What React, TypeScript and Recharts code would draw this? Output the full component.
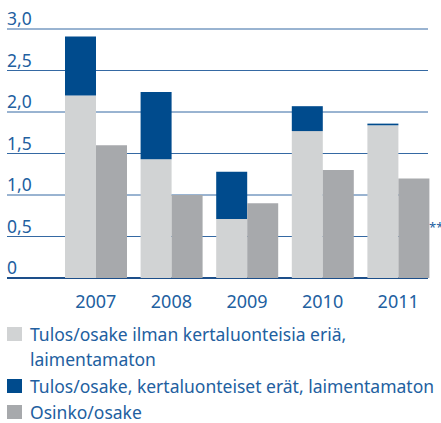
import { BarChart, Bar, XAxis, YAxis, CartesianGrid } from 'recharts';

const years = ['2007', '2008', '2009', '2010', '2011'];
const epsBase = [2.2, 1.43, 0.71, 1.77, 1.84];
const epsItems = [0.71, 0.81, 0.57, 0.3, 0.02];
const dividend = [1.6, 1.0, 0.9, 1.3, 1.2];
const yTicks = [0, 0.5, 1, 1.5, 2, 2.5, 3];

const legendLabels = [
  'Tulos/osake ilman kertaluonteisia eriä,\nlaimentamaton',
  'Tulos/osake, kertaluonteiset erät, laimentamaton',
  'Osinko/osake',
];

const LIGHT = '#d1d3d4';
const BLUE = '#004b8d';
const GRAY = '#a7a9ac';
const TEXT = '#22609f';
const LINE = '#3569a3';
const FONT = '"Noto Sans", sans-serif';

const data = years.map((year, i) => ({
  year,
  base: epsBase[i],
  items: epsItems[i],
  dividend: dividend[i],
}));

const legendColors = [LIGHT, BLUE, GRAY];

const fmt = (v: number) => (v === 0 ? '0' : v.toFixed(1).replace('.', ','));

function GridLine(p: any) {
  const isZero = p.index === 0;
  return (
    <line
      key={p.key}
      x1={p.x1}
      y1={p.y1}
      x2={p.x2 - 8}
      y2={p.y2}
      stroke={isZero ? '#1d4f8a' : LINE}
      strokeWidth={isZero ? 2 : 1}
    />
  );
}

export default function App() {
  return (
    <div style={{ position: 'absolute', left: 0, top: 0, width: 441, height: 423, fontFamily: FONT }}>
      <BarChart
        width={441}
        height={315}
        data={data}
        margin={{ top: 29, right: 5, bottom: 0, left: 6 }}
        barGap={0}
        barSize={31}
      >
        <CartesianGrid vertical={false} horizontal={GridLine} />
        <YAxis
          width={1}
          domain={[0, 3]}
          ticks={yTicks}
          interval={0}
          axisLine={false}
          tickLine={false}
          tickSize={0}
          tickMargin={0}
          tick={(p: any) => (
            <text
              key={p.index}
              x={p.x}
              y={p.y - 4}
              textAnchor="start"
              fill={TEXT}
              fontSize={17.5}
              fontFamily={FONT}
            >
              {fmt(p.payload.value)}
            </text>
          )}
        />
        <XAxis
          dataKey="year"
          height={37}
          axisLine={false}
          tickLine={false}
          tickMargin={11}
          padding={{ left: 51, right: 0 }}
          tick={{ fill: TEXT, fontSize: 18, fontFamily: FONT }}
        />
        <Bar dataKey="base" stackId="eps" fill={LIGHT} isAnimationActive={false} />
        <Bar dataKey="items" stackId="eps" fill={BLUE} isAnimationActive={false} />
        <Bar dataKey="dividend" fill={GRAY} isAnimationActive={false} />
      </BarChart>
      <span style={{ position: 'absolute', left: 429, top: 218, color: TEXT, fontSize: 13 }}>**</span>
      <div style={{ position: 'absolute', left: 7, top: 322, color: TEXT, fontSize: 17.5 }}>
        {legendLabels.map((label, i) => (
          <div key={i} style={{ display: 'flex', alignItems: 'flex-start', marginBottom: 1.5 }}>
            <span
              style={{
                width: 15,
                height: 14,
                background: legendColors[i],
                marginTop: 5,
                marginRight: 8,
                flexShrink: 0,
              }}
            />
            <span style={{ whiteSpace: 'pre', lineHeight: '25px' }}>{label}</span>
          </div>
        ))}
      </div>
    </div>
  );
}
